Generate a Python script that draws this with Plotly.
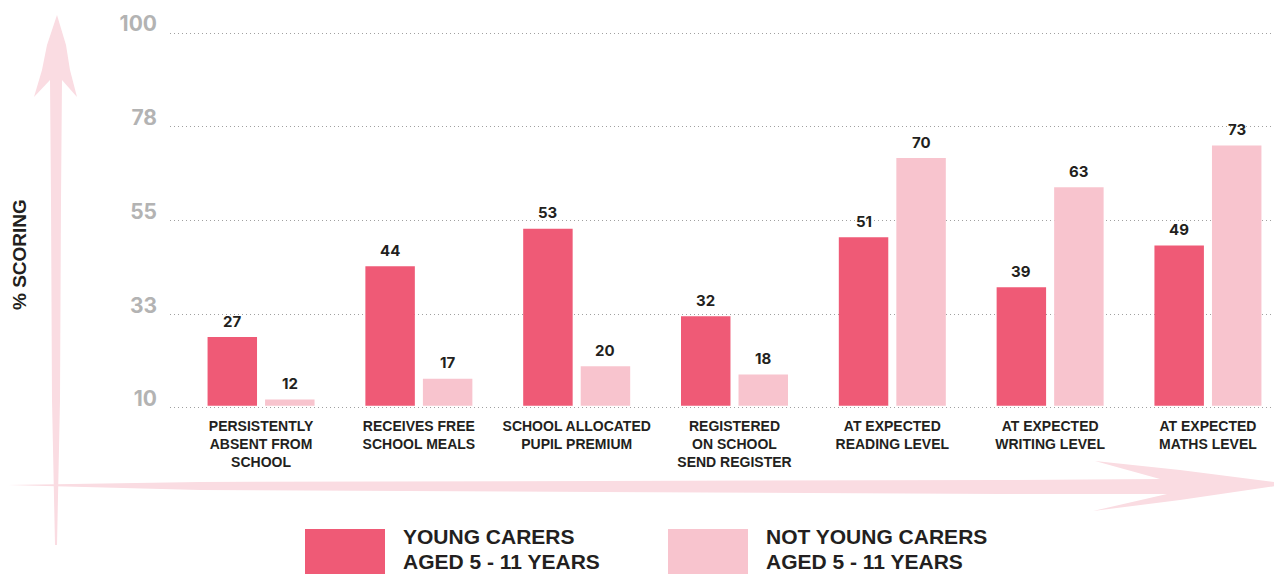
import plotly.graph_objects as go

# ---- data ----
categories = [
    "PERSISTENTLY<br>ABSENT FROM<br>SCHOOL",
    "RECEIVES FREE<br>SCHOOL MEALS",
    "SCHOOL ALLOCATED<br>PUPIL PREMIUM",
    "REGISTERED<br>ON SCHOOL<br>SEND REGISTER",
    "AT EXPECTED<br>READING LEVEL",
    "AT EXPECTED<br>WRITING LEVEL",
    "AT EXPECTED<br>MATHS LEVEL",
]
young_carers = [27, 44, 53, 32, 51, 39, 49]
not_young_carers = [12, 17, 20, 18, 70, 63, 73]
y_tickvals = [10, 32.5, 55, 77.5, 100]
y_ticktext = ["10", "33", "55", "78", "100"]
series_names = ["YOUNG CARERS<br>AGED 5 - 11 YEARS", "NOT YOUNG CARERS<br>AGED 5 - 11 YEARS"]

# ---- style ----
OFF = 8  # page body margin offset
W, H = 1282, 574
ML, MR, MT, MB = 162, 0, 23, 172
BAR_BASE = 10.5
C_YOUNG = "#EF5A76"
C_NOT = "#F8C4CE"
C_ARROW = "#FADCE2"
TXT = "#231F20"
BODY = "Liberation Sans, Arial, sans-serif"
NUM = "Inter, Roboto, sans-serif"

PW = W - ML - MR
PH = H - MT - MB


def px(x):  # screen pixel -> paper
    return (x - OFF - ML) / PW


def py(y):
    return (H - MB - (y - OFF)) / PH


def path(points):
    return "M " + " L ".join(f"{px(x):.5f},{py(y):.5f}" for x, y in points) + " Z"


fig = go.Figure()
for vals, name, color in ((young_carers, series_names[0], C_YOUNG),
                          (not_young_carers, series_names[1], C_NOT)):
    fig.add_trace(go.Bar(x=categories, y=[v - BAR_BASE for v in vals], base=BAR_BASE,
                         name=name, customdata=vals,
                         hovertemplate="%{x}: %{customdata}<extra></extra>",
                         marker=dict(color=color, line=dict(width=0))))

bargap, bargroupgap = 0.271, 0.14
x_range = [-0.577, 6.52]
unit_px = PW / (x_range[1] - x_range[0])
slot_px = (1 - bargap) * unit_px / 2

annotations = []
for vals, sign in ((young_carers, -1), (not_young_carers, 1)):
    for c, v in zip(categories, vals):
        annotations.append(dict(
            x=c, y=v, xref="x", yref="y", text=f"<b>{v}</b>", showarrow=False,
            xshift=sign * slot_px / 2, yshift=16, yanchor="middle",
            font=dict(family=NUM, size=15, color=TXT)))

# y-axis title
annotations.append(dict(x=px(19), y=py(255), xref="paper", yref="paper",
                        xanchor="center", yanchor="middle",
                        text="<b>% SCORING</b>", textangle=-90, showarrow=False,
                        font=dict(family=BODY, size=19, color=TXT)))

# legend (custom, large swatches)
shapes = []
for (x0, tx), name, color in zip(((305, 401), (668, 764)), series_names, (C_YOUNG, C_NOT)):
    shapes.append(dict(type="rect", xref="paper", yref="paper",
                       x0=px(x0), x1=px(x0 + 80), y0=py(590), y1=py(529),
                       fillcolor=color, line=dict(width=0)))
    l1, l2 = name.split("<br>")
    for t, yy in ((l1, 536), (l2, 561)):
        annotations.append(dict(x=px(tx), y=py(yy), xref="paper", yref="paper",
                                text=f"<b>{t}</b>", showarrow=False,
                                xanchor="left", yanchor="middle",
                                font=dict(family=BODY, size=21, color=TXT)))

# hand-drawn style arrows
vert_arrow = [(57, 15), (66, 45), (70, 70), (77, 97), (62, 80), (61, 200), (60, 400),
              (57, 545), (55, 545), (52, 400), (51, 200), (50, 80), (34, 97),
              (42, 70), (47, 45)]
horiz_arrow = [(5, 485), (200, 482), (600, 481), (1000, 480), (1160, 479),
               (1095, 461), (1180, 470), (1290, 484), (1180, 500), (1093, 511),
               (1167, 494), (1000, 494), (600, 492), (200, 490)]
for pts in (vert_arrow, horiz_arrow):
    shapes.append(dict(type="path", xref="paper", yref="paper", path=path(pts),
                       fillcolor=C_ARROW, line=dict(width=0), layer="below"))

fig.update_layout(
    width=W, height=H,
    margin=dict(l=ML, r=MR, t=MT, b=MB, autoexpand=False),
    paper_bgcolor="white", plot_bgcolor="white",
    barmode="group", bargap=bargap, bargroupgap=bargroupgap,
    showlegend=False,
    annotations=annotations,
    shapes=shapes,
    xaxis=dict(range=x_range, showgrid=False, zeroline=False, showline=False,
               ticks="", ticklabelstandoff=6, automargin=False,
               tickfont=dict(family=BODY, size=14, color=TXT, weight="bold")),
    yaxis=dict(range=[9.5, 100.5], tickvals=y_tickvals, ticktext=y_ticktext,
               showgrid=True, gridcolor="#A0A0A0", griddash="1px,3px", gridwidth=1,
               zeroline=False, showline=False, ticks="", ticklabelstandoff=12,
               ticklabelshift=-9, automargin=False,
               tickfont=dict(family=NUM, size=21, color="#B3B3B3", weight="bold")),
)

fig.write_html("out.html")
